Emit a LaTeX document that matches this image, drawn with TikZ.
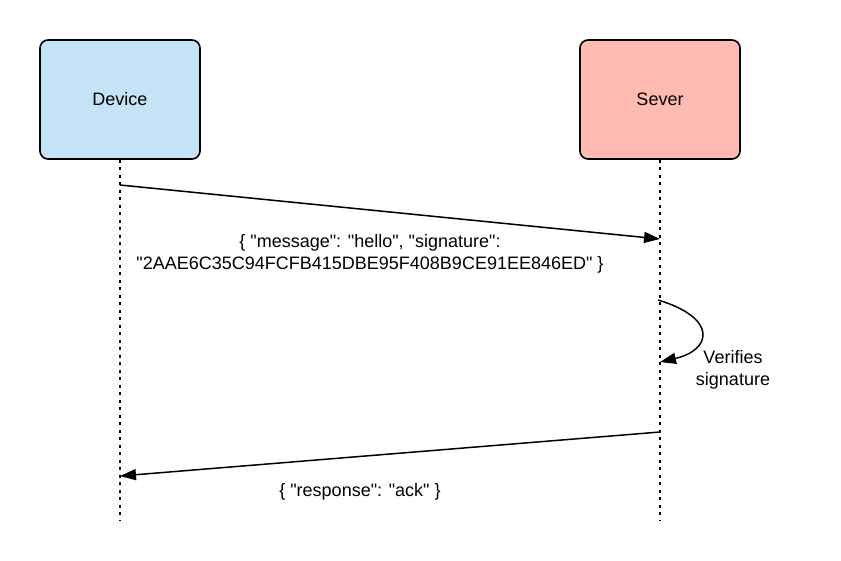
\documentclass[tikz,border=0pt]{standalone}
\usepackage{fontspec}
\newfontfamily\arial{Liberation Sans}
\usetikzlibrary{arrows.meta}
\begin{document}
\begin{tikzpicture}[x=1pt,y=-1pt,
  actor/.style={draw=black,line width=1.6pt,rounded corners=8pt,minimum width=160pt,minimum height=119pt,font=\arial\fontsize{18}{22}\selectfont},
  life/.style={line width=1.8pt,dash pattern=on 3pt off 4.5pt},
  msg/.style={line width=1.5pt,-{Triangle[length=16pt,width=11pt]}},
  lbl/.style={font=\arial\fontsize{18}{22}\selectfont,align=center,inner sep=0pt}]
\definecolor{devblue}{RGB}{197,227,246}
\definecolor{srvred}{RGB}{255,187,177}
\useasboundingbox (0,0) rectangle (841,561);
\node[actor,fill=devblue] (dev) at (120,99.5) {Device};
\node[actor,fill=srvred] (srv) at (660,99.5) {Sever};
\coordinate (devend) at (120,520);
\coordinate (srvend) at (660,520);
\draw[life] (dev.south) -- (devend);
\draw[life] (srv.south) -- (srvend);
\coordinate (m1s) at (120,185);
\coordinate (m1e) at (660,239);
\draw[msg] (m1s) -- (m1e);
\node[lbl] (l1) at (370,254) {\{ "message": "hello", "signature":\\"2AAE6C35C94FCFB415DBE95F408B9CE91EE846ED" \}};
\coordinate (s1) at (658,300);
\coordinate (s2) at (660,362);
\draw[msg] (s1) .. controls (718,318) and (712,350) .. (s2);
\node[lbl] (l2) at (733,369.5) {Verifies\\signature};
\coordinate (m2s) at (660,432);
\coordinate (m2e) at (120,476);
\draw[msg] (m2s) -- (m2e);
\node[lbl] (l3) at (360,492) {\{ "response": "ack" \}};
\end{tikzpicture}
\end{document}
